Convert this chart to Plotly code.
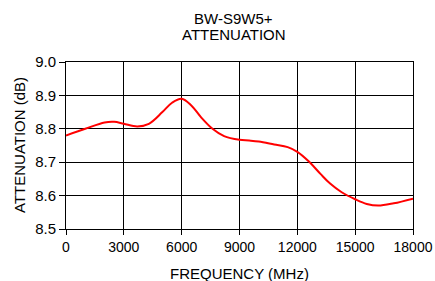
import plotly.graph_objects as go

freq_mhz = [0, 1000, 2000, 2500, 3000, 3700, 4300, 5000, 5500, 6000, 6500, 7000, 7600, 8200,
            9000, 9500, 10000, 10800, 11500, 12000, 12600, 13200, 13700, 14300, 15000, 15600,
            16200, 17000, 18000]
atten_db = [8.780, 8.800, 8.819, 8.821, 8.815, 8.807, 8.815, 8.850, 8.878, 8.890, 8.870, 8.835,
            8.800, 8.778, 8.767, 8.765, 8.762, 8.753, 8.745, 8.731, 8.702, 8.665, 8.636, 8.610,
            8.589, 8.575, 8.570, 8.577, 8.591]
x_ticks = [0, 3000, 6000, 9000, 12000, 15000, 18000]
y_ticks = [8.5, 8.6, 8.7, 8.8, 8.9, 9.0]

font = "Liberation Sans, Arial, sans-serif"
tfont = dict(family=font, size=15, color="black")

fig = go.Figure()
fig.add_trace(go.Scatter(x=freq_mhz, y=atten_db, mode="lines",
                         line=dict(color="#ff0000", width=2, shape="spline", smoothing=1.0),
                         showlegend=False, hoverinfo="skip"))

fig.update_layout(
    width=435, height=281,
    margin=dict(l=66, r=22, t=62, b=52, autoexpand=False),
    paper_bgcolor="white", plot_bgcolor="white",
    font=dict(family=font, size=14, color="black"),
    annotations=[
        dict(text="BW-S9W5+", xref="paper", yref="paper", x=0.483, y=1.0,
             yshift=44, xanchor="center", yanchor="middle", showarrow=False, font=tfont),
        dict(text="ATTENUATION", xref="paper", yref="paper", x=0.483, y=1.0,
             yshift=28, xanchor="center", yanchor="middle", showarrow=False, font=tfont),
        dict(text="FREQUENCY (MHz)", xref="paper", yref="paper", x=0.5, y=0, yshift=-44,
             xanchor="center", yanchor="middle", showarrow=False, font=tfont),
        dict(text="ATTENUATION (dB)", xref="paper", yref="paper", x=0, y=0.5, xshift=-46.5,
             xanchor="center", yanchor="middle", textangle=-90, showarrow=False, font=tfont),
    ],
)
fig.update_xaxes(range=[0, 18000], tickvals=x_ticks, ticktext=[str(v) for v in x_ticks],
                 showgrid=True, gridcolor="black", gridwidth=1, automargin=False,
                 showline=True, linecolor="black", linewidth=1, mirror=True,
                 ticks="outside", ticklen=5, tickcolor="black", zeroline=False,
                 tickfont=dict(family=font, size=14, color="black"))
fig.update_yaxes(range=[8.5, 9.0], tickvals=y_ticks, ticktext=[f"{v:.1f}" for v in y_ticks],
                 showgrid=True, gridcolor="black", gridwidth=1, automargin=False,
                 showline=True, linecolor="black", linewidth=1, mirror=True,
                 ticks="outside", ticklen=6, tickcolor="black", zeroline=False,
                 tickfont=dict(family=font, size=15, color="black"))

fig.write_html("out.html", config={"displayModeBar": False, "staticPlot": True},
               post_script="document.body.style.margin='0';document.documentElement.style.overflow='hidden';")
